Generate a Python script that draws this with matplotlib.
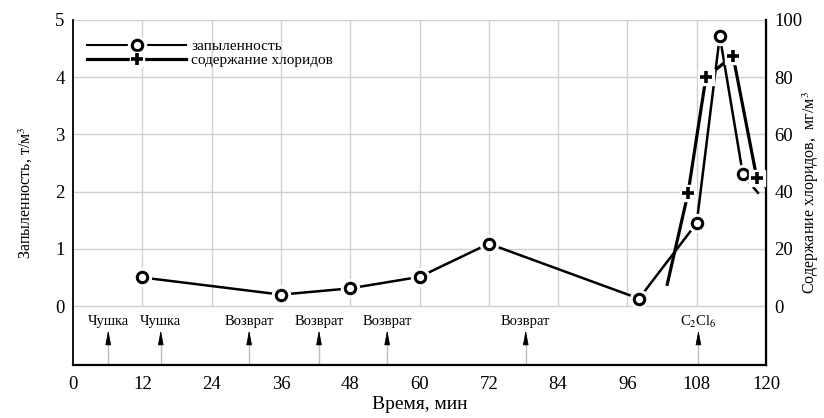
import matplotlib
matplotlib.use('Agg')
import matplotlib.pyplot as plt
from matplotlib.lines import Line2D
from matplotlib.legend_handler import HandlerTuple
import numpy as np

plt.rcParams['font.family'] = ['Liberation Serif', 'DejaVu Serif']
plt.rcParams['mathtext.fontset'] = 'stix'

# data
dust_x = [12, 36, 48, 60, 72, 98, 108, 112, 116, 118.6]
dust_y = [0.50, 0.20, 0.31, 0.51, 1.09, 0.13, 1.45, 4.72, 2.30, 1.98]
dust_marked = 9  # first n points carry a marker

chl_x = [102.9, 106.5, 109.6, 114.3, 118.4, 119.8]
chl_y = [7.6, 39.5, 80.0, 87.4, 44.8, 42.0]
chl_marked = [1, 2, 3, 4]

event_x = [6.1, 15.2, 30.5, 42.6, 54.4, 78.4, 108.3]
event_labels = ['Чушка', 'Чушка', 'Возврат', 'Возврат', 'Возврат', 'Возврат',
                r'C$_2$Cl$_6$']

x_ticks = list(range(0, 121, 12))
left_ticks = [0, 1, 2, 3, 4, 5]
right_ticks = [0, 20, 40, 60, 80, 100]

YMIN = -1.03
SCALE = 20  # right axis units per left unit

fig = plt.figure(figsize=(8.24, 4.18), dpi=100)
ax = fig.add_axes([73 / 824, 1 - 365 / 418, (766 - 73) / 824, (365 - 20) / 418])
ax.set_xlim(0, 120)
ax.set_ylim(YMIN, 5)
ax2 = ax.twinx()
ax2.set_ylim(YMIN * SCALE, 5 * SCALE)

# grid only above zero
grid_c = '#d0d0d0'
ax.vlines(x_ticks[1:-1], 0, 5, color=grid_c, lw=1, zorder=0)
ax.hlines(left_ticks, 0, 120, color=grid_c, lw=1, zorder=0)

# event arrows
for x, lab in zip(event_x, event_labels):
    ax.plot([x, x], [YMIN, -0.62], color='#bdbdbd', lw=1, zorder=1)
    ax.annotate('', xy=(x, -0.42), xytext=(x, -0.66),
                arrowprops=dict(arrowstyle='-|>,head_length=0.9,head_width=0.17',
                                color='black', lw=0.6, shrinkA=0, shrinkB=0))
    ax.text(x, -0.27, lab, ha='center', va='center', fontsize=10.5)

# dust series
ax.plot(dust_x, dust_y, color='black', lw=1.8, zorder=3)
ax.plot(dust_x[:dust_marked], dust_y[:dust_marked], ls='none', marker='o',
        ms=13, mfc='white', mec='white', zorder=4)
ax.plot(dust_x[:dust_marked], dust_y[:dust_marked], ls='none', marker='o',
        ms=7.5, mfc='white', mec='black', mew=2.2, zorder=5)

# chloride series
ax2.plot(chl_x, chl_y, color='black', lw=2.3, zorder=3)
mx = [chl_x[i] for i in chl_marked]
my = [chl_y[i] for i in chl_marked]
ax2.plot(mx, my, ls='none', marker='s', ms=11, mfc='white', mec='white', zorder=4)
ax2.plot(mx, my, ls='none', marker='+', ms=8, mec='black', mew=2.6, zorder=5)

# axes styling
for a in (ax, ax2):
    a.spines['top'].set_visible(False)
    a.tick_params(length=0, labelsize=13.5, pad=6)
ax.spines['left'].set_linewidth(1.3)
ax.spines['bottom'].set_linewidth(1.6)
ax2.spines['right'].set_linewidth(1.6)
ax2.spines['left'].set_visible(False)
ax2.spines['bottom'].set_visible(False)
ax.set_xticks(x_ticks)
ax.set_yticks(left_ticks)
ax2.set_yticks(right_ticks)
ax.tick_params(axis='x', pad=8)

ax.set_xlabel('Время, мин', fontsize=14, labelpad=2)
ax.set_ylabel('Запыленность, т/м$^3$', fontsize=11.5)
ax.yaxis.set_label_coords(-0.055, 0.5)
ax2.set_ylabel('Содержание хлоридов,  мг/м$^3$', fontsize=11.5)
ax2.yaxis.set_label_coords(1.05, 0.5)

# legend
h1 = (Line2D([], [], color='black', lw=1.5),
      Line2D([], [], ls='none', marker='o', ms=13, mfc='white', mec='white'),
      Line2D([], [], ls='none', marker='o', ms=7.5, mfc='white', mec='black', mew=2.2))
h2 = (Line2D([], [], color='black', lw=2.3),
      Line2D([], [], ls='none', marker='s', ms=10, mfc='white', mec='white'),
      Line2D([], [], ls='none', marker='+', ms=8, mec='black', mew=2.6))
leg = ax2.legend([h1, h2], ['запыленность', 'содержание хлоридов'],
                 handler_map={tuple: HandlerTuple(ndivide=1)},
                 loc='upper left', bbox_to_anchor=(0.005, 0.975), frameon=False,
                 fontsize=11, handlelength=6.5, handletextpad=0.3,
                 labelspacing=0.05, borderpad=0.2)

fig.savefig('out.png', dpi=100)
